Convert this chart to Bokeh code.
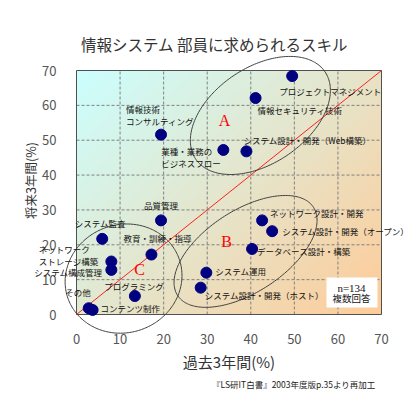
import numpy as np
from bokeh.plotting import figure
from bokeh.models import (Range1d, FixedTicker, Label, LabelSet, PolyAnnotation,
                          BoxAnnotation, ColumnDataSource)
from bokeh.core.properties import value
from bokeh.embed import file_html
from bokeh.resources import INLINE

# ---------------- data ----------------
skills = ["プロジェクトマネジメント", "情報セキュリティ技術", "システム設計・開発（Web構築）",
          "業種・業務の\nビジネスフロー", "情報技術\nコンサルティング", "品質管理", "システム監査",
          "教育・訓練・指導", "ネットワーク\nストレージ構築", "システム構成管理", "プログラミング",
          "その他", "コンテンツ制作", "システム運用", "システム設計・開発（ホスト）",
          "ネットワーク設計・開発", "システム設計・開発（オープン）", "データベース設計・構築"]
past_3y = [49.5, 41.1, 39.0, 33.7, 19.4, 19.4, 5.9, 17.2, 8.0, 8.0, 13.4,
           2.8, 3.7, 29.8, 28.5, 42.6, 44.9, 40.3]
future_3y = [68.4, 62.1, 46.8, 47.2, 51.6, 27.0, 21.7, 17.2, 15.2, 12.8, 5.3,
             1.8, 1.3, 12.0, 7.7, 27.0, 23.9, 18.8]
x_ticks = [0, 10, 20, 30, 40, 50, 60, 70]
y_ticks = [0, 10, 20, 30, 40, 50, 60, 70]

# label placement (screen px; dy positive = downwards)
label_dx = [-13, 2, -3, -62, -35, 0, -2, -28, -13, -9, -1, 2, 8, 9, 4, 8, 10, 5]
label_dy = [15, 12, -11, 7, -20, -15, -15.5, -17, -7, 2.4, -10, -16, -1.8, -1.6, 7, -7, 0, 2.4]
label_align = ["left", "left", "left", "left", "left", "center", "center", "left",
               "right", "right", "center", "right", "left", "left", "left", "left", "left", "left"]

# ---------------- layout ----------------
W, H = 413, 394
PL, PT, PR, PB = 76, 70, 381, 314          # plot-area edges in canvas px
SX = (PR - PL) / 70.0
SY = (PB - PT) / 70.0
JP = "Noto Sans CJK JP"

x_lo, x_hi = -PL / SX, 70 + (W - PR) / SX
y_lo, y_hi = -(H - PB) / SY, 70 + PT / SY

p = figure(width=W, height=H, output_backend="svg", toolbar_location=None,
           x_range=Range1d(x_lo, x_hi), y_range=Range1d(y_lo, y_hi),
           min_border=0, min_border_left=0, min_border_right=0,
           min_border_top=0, min_border_bottom=0)
p.title = None
p.background_fill_color = "white"
p.border_fill_color = "white"
p.outline_line_color = None
p.xgrid.visible = False
p.ygrid.visible = False

# gradient background (light turquoise -> tan)
FW, FH = PR - PL, PB - PT
nx, ny = 160, 128
u = np.linspace(0, 1, nx)[None, :]
v = np.linspace(1, 0, ny)[:, None]
t = (u * FW + v * FH) / (FW + FH)
c0 = np.array([204, 255, 255], dtype=float)
c1 = np.array([255, 204, 153], dtype=float)
img = np.empty((ny, nx), dtype=np.uint32)
view = img.view(dtype=np.uint8).reshape((ny, nx, 4))
for k in range(3):
    view[..., k] = np.clip(c0[k] + (c1[k] - c0[k]) * t, 0, 255).astype(np.uint8)
view[..., 3] = 255
x0, x1 = x_ticks[0], x_ticks[-1]
y0, y1 = y_ticks[0], y_ticks[-1]
p.image_rgba(image=[img], x=x0, y=y0, dw=x1 - x0, dh=y1 - y0, level="image")

# dashed grid lines inside the plot area
gx = x_ticks[1:-1]
gy = y_ticks[1:-1]
p.segment(x0=gx, y0=[y0] * len(gx), x1=gx, y1=[y1] * len(gx),
          line_color="#808080", line_dash="3 2", line_width=1, level="underlay")
p.segment(x0=[x0] * len(gy), y0=gy, x1=[x1] * len(gy), y1=gy,
          line_color="#808080", line_dash="3 2", line_width=1, level="underlay")

# plot-area border
p.add_layout(BoxAnnotation(left=x0, right=x1, bottom=y0, top=y1, fill_alpha=0,
                           line_color="#505050", line_width=1, line_alpha=1, level="underlay"))

# axes fixed at the plot-area edges
p.xaxis.fixed_location = y0
p.yaxis.fixed_location = x0
p.xaxis.ticker = FixedTicker(ticks=x_ticks)
p.yaxis.ticker = FixedTicker(ticks=y_ticks)
for ax in (p.xaxis[0], p.yaxis[0]):
    ax.axis_line_color = None
    ax.major_tick_line_color = None
    ax.minor_tick_line_color = None
    ax.major_label_text_font = JP
    ax.major_label_text_font_size = "13px"
    ax.major_label_text_color = "#555555"
p.xaxis.major_label_standoff = 13
p.yaxis.major_label_standoff = 14

# diagonal reference line (future = past)
p.line(x=[x0, x1], y=[y0, y1], line_color="#ff2020", line_width=1)

# ellipses (screen-px radii around a data-space centre)
def ellipse(cx, cy, a, b, deg):
    tt = np.linspace(0, 2 * np.pi, 240)
    th = np.radians(deg)
    dx = a * np.cos(tt) * np.cos(th) - b * np.sin(tt) * np.sin(th)
    dy = a * np.cos(tt) * np.sin(th) + b * np.sin(tt) * np.cos(th)
    return list(cx + dx / SX), list(cy + dy / SY)

for (cx, cy, a, b, d) in [(42.2, 57.1, 78, 48, 34), (38.8, 18.1, 81, 41, 33), (10.8, 10.3, 59, 54, 20)]:
    xs, ys = ellipse(cx, cy, a, b, d)
    p.add_layout(PolyAnnotation(xs=xs, ys=ys, fill_alpha=0, line_color="#404040",
                                line_alpha=1, line_width=1))

# points
p.scatter(x=past_3y, y=future_3y, size=11, fill_color="#000080", line_color="#000080")

for al in ("left", "center", "right"):
    idx = [i for i, a in enumerate(label_align) if a == al]
    s = ColumnDataSource(dict(x=[past_3y[i] for i in idx], y=[future_3y[i] for i in idx],
                              text=[skills[i] for i in idx],
                              dx=[label_dx[i] for i in idx], dy=[-label_dy[i] for i in idx]))
    p.add_layout(LabelSet(x="x", y="y", text="text", source=s, x_offset="dx", y_offset="dy",
                          text_align=al, text_baseline="middle", text_font=value(JP),
                          text_font_size="8.5px", text_color="#111111", text_line_height=1.0))

# group letters
def data_x(px):
    return (px - PL) / SX

def data_y(py):
    return (PB - py) / SY

for (px, py, txt) in [(224, 120, "A"), (226, 241, "B"), (139, 269, "C")]:
    p.add_layout(Label(x=data_x(px), y=data_y(py), text=txt, text_align="center",
                       text_baseline="middle", text_font="Liberation Serif",
                       text_font_size="16px", text_color="#ff0000"))

# n=134 box
p.add_layout(BoxAnnotation(left=data_x(326), right=data_x(377), bottom=data_y(307), top=data_y(277),
                           fill_color="white", fill_alpha=1, line_color=None))
p.add_layout(Label(x=data_x(351), y=data_y(287), text="n=134", text_align="center",
                   text_baseline="middle", text_font="Liberation Serif", text_font_size="11px",
                   text_color="#111111"))
p.add_layout(Label(x=data_x(351), y=data_y(297.5), text="複数回答", text_align="center",
                   text_baseline="middle", text_font=JP, text_font_size="9.5px", text_color="#111111"))

# title, axis titles, source note
p.add_layout(Label(x=data_x(214), y=data_y(43), text="情報システム 部員に求められるスキル",
                   text_align="center", text_baseline="middle", text_font=JP,
                   text_font_size="15.5px", text_color="#333333"))
p.add_layout(Label(x=data_x(228.5), y=data_y(361), text="過去3年間(%)", text_align="center",
                   text_baseline="middle", text_font=JP, text_font_size="15px", text_color="#333333"))
p.add_layout(Label(x=data_x(30), y=data_y(180), text="将来3年間(%)", text_align="center",
                   text_baseline="middle", angle=90, angle_units="deg", text_font=JP,
                   text_font_size="12.5px", text_color="#333333"))
p.add_layout(Label(x=data_x(375), y=data_y(383), text="『LS研IT白書』2003年度版p.35より再加工",
                   text_align="right", text_baseline="middle", text_font=JP,
                   text_font_size="8.5px", text_color="#222222"))

open("out.html", "w").write(file_html(p, INLINE))
